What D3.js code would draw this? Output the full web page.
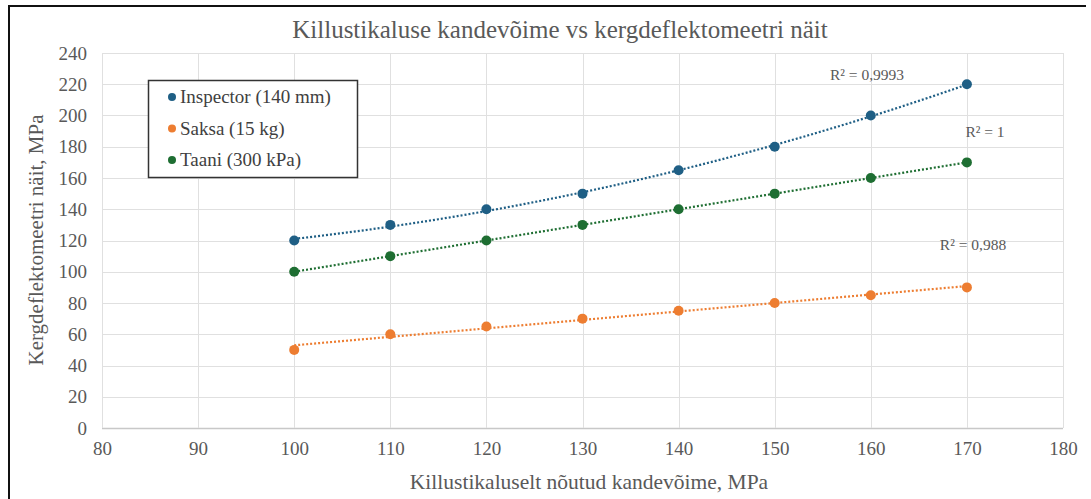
<!DOCTYPE html>
<html>
<head>
<meta charset="utf-8">
<script src="https://cdn.jsdelivr.net/npm/d3@7"></script>
<style>
  html, body { margin: 0; padding: 0; background: #fff; }
  svg { display: block; }
  text { font-family: "Liberation Serif", "Times New Roman", serif; }
</style>
</head>
<body>
<svg id="chart" width="1091" height="499"></svg>
<script>
// ---- data ----
const xValues = [100, 110, 120, 130, 140, 150, 160, 170];
const inspectorValues = [120, 130, 140, 150, 165, 180, 200, 220];
const saksaValues = [50, 60, 65, 70, 75, 80, 85, 90];
const taaniValues = [100, 110, 120, 130, 140, 150, 160, 170];
const seriesNames = ["Inspector (140 mm)", "Saksa (15 kg)", "Taani (300 kPa)"];
const trendOrders = [2, 1, 1];
const r2Labels = ["R² = 0,9993", "R² = 1", "R² = 0,988"];
const xTicks = [80, 90, 100, 110, 120, 130, 140, 150, 160, 170, 180];
const yTicks = [0, 20, 40, 60, 80, 100, 120, 140, 160, 180, 200, 220, 240];
const titleText = "Killustikaluse kandevõime vs kergdeflektomeetri näit";
const xTitle = "Killustikaluselt nõutud kandevõime, MPa";
const yTitle = "Kergdeflektomeetri näit, MPa";

// ---- styling ----
const colors = ["#1F5F85", "#ED7D31", "#1E6E32"];
const seriesValues = [inspectorValues, saksaValues, taaniValues];
const svg = d3.select("#chart");
const margin = { left: 102, right: 1063, top: 53, bottom: 428 };
const serif = '"Liberation Serif", "Times New Roman", serif';

const x = d3.scaleLinear().domain([80, 180]).range([margin.left, margin.right]);
const y = d3.scaleLinear().domain([0, 240]).range([margin.bottom, margin.top]);

// outer border
svg.append("line").attr("x1", 8).attr("x2", 1086).attr("y1", 6).attr("y2", 6)
  .attr("stroke", "#111").attr("stroke-width", 2);
svg.append("line").attr("x1", 9).attr("x2", 9).attr("y1", 6).attr("y2", 499)
  .attr("stroke", "#111").attr("stroke-width", 2);

// grid
const grid = svg.append("g");
grid.selectAll(".hg").data(yTicks).join("line")
  .attr("x1", margin.left).attr("x2", margin.right)
  .attr("y1", d => Math.round(y(d)) + 0.5).attr("y2", d => Math.round(y(d)) + 0.5)
  .attr("stroke", d => d === 0 ? "#c8c8c8" : "#e0e0e0").attr("stroke-width", d => d === 0 ? 1.5 : 1);
grid.selectAll(".vg").data(xTicks).join("line")
  .attr("y1", margin.top).attr("y2", margin.bottom)
  .attr("x1", d => Math.round(x(d)) + 0.5).attr("x2", d => Math.round(x(d)) + 0.5)
  .attr("stroke", "#e0e0e0").attr("stroke-width", 1);

// axes (labels via d3 axes)
const xAxis = svg.append("g").attr("transform", `translate(0,${margin.bottom})`)
  .call(d3.axisBottom(x).tickValues(xTicks).tickSize(0).tickPadding(14));
const yAxis = svg.append("g").attr("transform", `translate(${margin.left},0)`)
  .call(d3.axisLeft(y).tickValues(yTicks).tickSize(0).tickPadding(15));
[xAxis, yAxis].forEach(a => {
  a.attr("font-family", serif).attr("font-size", 19);
  a.select(".domain").remove();
  a.selectAll("text").attr("fill", "#595959").style("font-size", "19px")
    .style("font-family", serif);
});

// titles
svg.append("text").attr("x", 560).attr("y", 38).attr("text-anchor", "middle")
  .attr("fill", "#595959").style("font-size", "25px").text(titleText);
svg.append("text").attr("x", 589).attr("y", 489).attr("text-anchor", "middle")
  .attr("fill", "#595959").style("font-size", "21.5px").text(xTitle);
svg.append("text").attr("transform", "translate(43,240) rotate(-90)").attr("text-anchor", "middle")
  .attr("fill", "#595959").style("font-size", "21px").text(yTitle);

// least-squares polynomial fit
function polyFit(xs, ys, order) {
  const n = order + 1;
  const A = Array.from({ length: n }, () => new Array(n + 1).fill(0));
  for (let i = 0; i < xs.length; i++) {
    for (let r = 0; r < n; r++) {
      for (let c = 0; c < n; c++) A[r][c] += Math.pow(xs[i], r + c);
      A[r][n] += ys[i] * Math.pow(xs[i], r);
    }
  }
  for (let p = 0; p < n; p++) {
    let max = p;
    for (let r = p + 1; r < n; r++) if (Math.abs(A[r][p]) > Math.abs(A[max][p])) max = r;
    [A[p], A[max]] = [A[max], A[p]];
    for (let r = p + 1; r < n; r++) {
      const f = A[r][p] / A[p][p];
      for (let c = p; c <= n; c++) A[r][c] -= f * A[p][c];
    }
  }
  const coef = new Array(n).fill(0);
  for (let r = n - 1; r >= 0; r--) {
    let s = A[r][n];
    for (let c = r + 1; c < n; c++) s -= A[r][c] * coef[c];
    coef[r] = s / A[r][r];
  }
  return xv => coef.reduce((acc, k, i) => acc + k * Math.pow(xv, i), 0);
}

// trendlines
const line = d3.line().x(d => x(d[0])).y(d => y(d[1]));
seriesValues.forEach((vals, si) => {
  const f = polyFit(xValues, vals, trendOrders[si]);
  const xs = d3.range(xValues[0], xValues[xValues.length - 1] + 0.5, 1);
  svg.append("path").datum(xs.map(xv => [xv, f(xv)]))
    .attr("d", line).attr("fill", "none").attr("stroke", colors[si])
    .attr("stroke-width", 2.2).attr("stroke-dasharray", "2,2");
});

// points
seriesValues.forEach((vals, si) => {
  svg.append("g").selectAll("circle").data(vals).join("circle")
    .attr("cx", (d, i) => x(xValues[i])).attr("cy", d => y(d))
    .attr("r", 5).attr("fill", colors[si]);
});

// R² labels
const r2Pos = [[867, 80], [985, 137], [973, 250]];
r2Labels.forEach((t, i) => {
  svg.append("text").attr("x", r2Pos[i][0]).attr("y", r2Pos[i][1]).attr("text-anchor", "middle")
    .attr("fill", "#595959").style("font-size", "15.5px").text(t);
});

// legend
const lg = svg.append("g");
lg.append("rect").attr("x", 148.5).attr("y", 80.5).attr("width", 209).attr("height", 97)
  .attr("fill", "#fff").attr("stroke", "#333").attr("stroke-width", 1.5);
seriesNames.forEach((nm, i) => {
  const cy = 97 + i * 31.5;
  lg.append("circle").attr("cx", 172).attr("cy", cy).attr("r", 4).attr("fill", colors[i]);
  lg.append("text").attr("x", 180).attr("y", cy + 6).attr("fill", "#404040")
    .style("font-size", "19px").text(nm);
});
</script>
</body>
</html>
